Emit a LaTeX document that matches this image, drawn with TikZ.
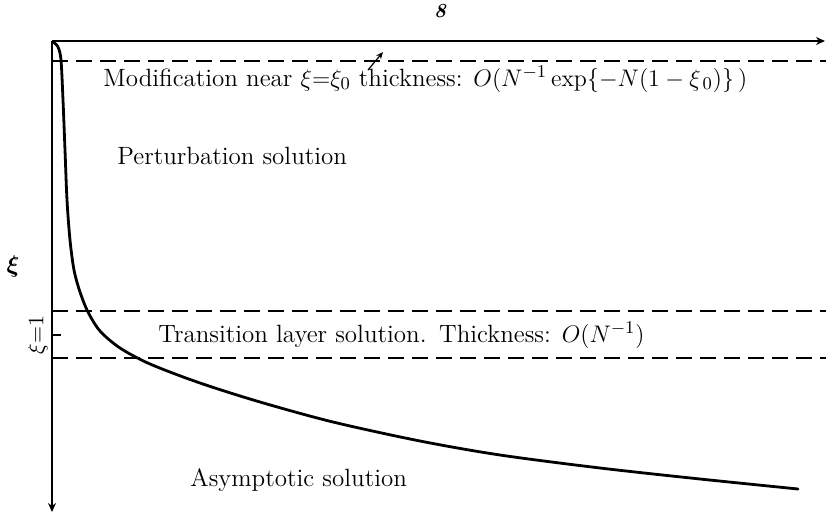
\documentclass[tikz,border=0pt]{standalone}
\usepackage{amsmath}
\usetikzlibrary{arrows.meta,positioning}
\tikzset{
  axisline/.style={line width=0.7pt,-{Stealth[length=4.5pt,width=4pt]}},
  guide/.style={line width=0.7pt,dash pattern=on 8pt off 4pt},
  soln/.style={line width=1.4pt,line cap=round},
  lbl/.style={font=\fontsize{12.5}{14}\selectfont,inner sep=0pt,anchor=base west},
}
\begin{document}
\begin{tikzpicture}[x=0.5pt,y=-0.5pt]
  \useasboundingbox (0,0) rectangle (826,520);
  % axes
  \coordinate (o) at (52,41);
  \coordinate (xend) at (825,41);
  \coordinate (yend) at (52,512);
  \draw[axisline] (o) -- (xend);
  \draw[axisline] (o) -- (yend);
  \node[lbl,anchor=base,font=\fontsize{10}{11}\selectfont\bfseries\itshape] (inf) at (440,17) {8};
  \node[lbl,anchor=center,font=\fontsize{12}{13}\selectfont] (xi) at (13,266) {$\boldsymbol{\xi}$};
  % layer boundaries
  \coordinate (m0) at (52,61);  \coordinate (m1) at (826,61);
  \coordinate (t0) at (52,311); \coordinate (t1) at (826,311);
  \coordinate (b0) at (52,358); \coordinate (b1) at (826,358);
  \draw[guide] (m0) -- (m1);
  \draw[guide] (t0) -- (t1);
  \draw[guide] (b0) -- (b1);
  \coordinate (tk) at (52,335);
  \draw[line width=0.7pt] (tk) -- ++(9,0);
  \node[lbl,anchor=center,rotate=90,font=\fontsize{11}{12}\selectfont] (xione) at (38,335) {$\xi{=}1$};
  % small arrow at the thin layer
  \coordinate (ma) at (368,70);
  \coordinate (mb) at (383,52);
  \draw[line width=0.6pt,-{Stealth[length=3.5pt,width=3pt]}] (ma) -- (mb);
  % solution curve
  \draw[soln] plot[smooth] coordinates {
    (53,42) (58,47) (61,60) (63,100) (65,150) (67,200) (70,240) (74,270)
    (80,292) (88,312) (100,331) (120,348) (150,364) (200,383) (260,402)
    (333,422) (420,441) (500,455) (600,468) (700,479) (798,489)};
  % region labels
  \node[lbl] (mod) at (103,86)
    {Modification near $\xi{=}\xi_0$ thickness: $O(N^{-1}\exp\{-N(1-\xi_{\,0})\}\,)$};
  \node[lbl] (pert) at (117,164) {Perturbation solution};
  \node[lbl] (trans) at (158,342)
    {Transition layer solution.\enspace Thickness: $O(N^{-1})$};
  \node[lbl] (asym) at (190,486) {Asymptotic solution};
\end{tikzpicture}
\end{document}
